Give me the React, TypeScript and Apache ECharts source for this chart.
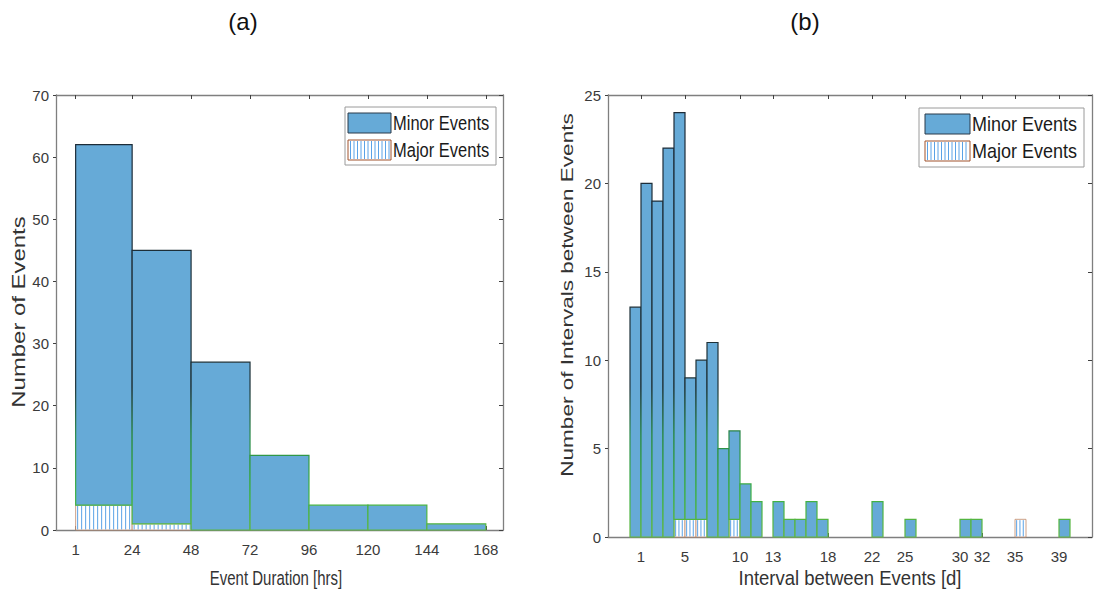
import React, { useEffect, useRef } from "react";
import * as echarts from "echarts";

// ---------- (a) Event duration histogram ----------
const durationEdges = [1, 24, 48, 72, 96, 120, 144, 168];
const durationMinor = [58, 44, 27, 12, 4, 4, 1];
const durationMajor = [4, 1, 0, 0, 0, 0, 0];
const durationTicks = [1, 24, 48, 72, 96, 120, 144, 168];

// ---------- (b) Interval between events histogram (1-day bins) ----------
const intervalDays = [
  0, 1, 2, 3, 4, 5, 6, 7, 8, 9, 10, 11, 12, 13, 14, 15, 16, 17, 18, 19,
  20, 21, 22, 23, 24, 25, 26, 27, 28, 29, 30, 31, 32, 33, 34, 35, 36, 37, 38, 39,
];
const intervalMinor = [
  13, 20, 19, 22, 23, 8, 9, 11, 5, 5, 3, 2, 0, 2, 1, 1, 2, 1, 0, 0,
  0, 0, 2, 0, 0, 1, 0, 0, 0, 0, 1, 1, 0, 0, 0, 0, 0, 0, 0, 1,
];
const intervalMajor = [
  0, 0, 0, 0, 1, 1, 1, 0, 0, 1, 0, 0, 0, 0, 0, 0, 0, 0, 0, 0,
  0, 0, 0, 0, 0, 0, 0, 0, 0, 0, 0, 0, 0, 0, 0, 1, 0, 0, 0, 0,
];
const intervalTicks = [1, 5, 10, 13, 18, 22, 25, 30, 32, 35, 39];

const FONT = 'Arial, "Liberation Sans", Helvetica, sans-serif';
const BAR_FILL = "#66AAD7";
const HATCH_COLOR = "#5aa2e6";
const MAJOR_EDGE = "#c08a6a";
const AXIS_COLOR = "#7f7f7f";
const LABEL_COLOR = "#3a3a3a";

function App() {
  const ref = useRef<HTMLDivElement>(null);

  useEffect(() => {
    if (!ref.current) return;
    const chart = echarts.init(ref.current, undefined, { renderer: "svg" });

    const edgeGradient = new echarts.graphic.LinearGradient(
      0, 95, 0, 537,
      [
        { offset: 0, color: "#1c2a38" },
        { offset: 0.66, color: "#1e3238" },
        { offset: 0.77, color: "#2a8a48" },
        { offset: 0.9, color: "#3cb043" },
        { offset: 1, color: "#62b840" },
      ],
      true
    );

    const minorData = (edges: number[], minor: number[], major: number[]) => {
      const out: number[][] = [];
      for (let i = 0; i < minor.length; i++) {
        if (minor[i] > 0) out.push([edges[i], edges[i + 1], major[i], major[i] + minor[i]]);
      }
      return out;
    };
    const majorData = (edges: number[], major: number[]) => {
      const out: number[][] = [];
      for (let i = 0; i < major.length; i++) {
        if (major[i] > 0) out.push([edges[i], edges[i + 1], 0, major[i]]);
      }
      return out;
    };

    const intervalEdges = intervalDays.concat([intervalDays[intervalDays.length - 1] + 1]);

    const renderMinor = (params: any, api: any) => {
      const a = api.coord([api.value(0), api.value(3)]);
      const b = api.coord([api.value(1), api.value(2)]);
      return {
        type: "rect",
        shape: { x: a[0], y: a[1], width: b[0] - a[0], height: b[1] - a[1] },
        style: { fill: BAR_FILL, stroke: edgeGradient, lineWidth: 1.2 },
      };
    };

    const makeRenderMajor = (spacing: number) => (params: any, api: any) => {
      const a = api.coord([api.value(0), api.value(3)]);
      const b = api.coord([api.value(1), api.value(2)]);
      const children: any[] = [
        {
          type: "rect",
          shape: { x: a[0], y: a[1], width: b[0] - a[0], height: b[1] - a[1] },
          style: { fill: "#ffffff", stroke: MAJOR_EDGE, lineWidth: 0.8 },
        },
      ];
      for (let x = a[0] + spacing / 2; x < b[0] - 0.8; x += spacing) {
        children.push({
          type: "line",
          shape: { x1: x, y1: a[1] + 0.8, x2: x, y2: b[1] - 0.5 },
          style: { stroke: HATCH_COLOR, lineWidth: 1 },
        });
      }
      return { type: "group", children };
    };

    const baseX = (gridIndex: number, min: number, max: number, ticks: number[], labelMargin: number) => ({
      type: "value",
      gridIndex,
      position: "bottom",
      min,
      max,
      axisLine: { show: true, onZero: false, lineStyle: { color: AXIS_COLOR, width: 1.3 } },
      axisTick: { show: true, inside: true, length: 4, customValues: ticks, lineStyle: { color: "#404040" } },
      axisLabel: { show: true, customValues: ticks, fontSize: 15, fontFamily: FONT, color: LABEL_COLOR, margin: labelMargin },
      splitLine: { show: false },
    });
    const topX = (gridIndex: number, min: number, max: number, ticks: number[]) => ({
      type: "value",
      gridIndex,
      position: "top",
      min,
      max,
      axisLine: { show: true, onZero: false, lineStyle: { color: AXIS_COLOR, width: 1.3 } },
      axisTick: { show: true, inside: true, length: 4, customValues: ticks, lineStyle: { color: "#404040" } },
      axisLabel: { show: false },
      splitLine: { show: false },
    });
    const leftY = (gridIndex: number, max: number, interval: number) => ({
      type: "value",
      gridIndex,
      position: "left",
      min: 0,
      max,
      interval,
      axisLine: { show: true, onZero: false, lineStyle: { color: AXIS_COLOR, width: 1.3 } },
      axisTick: { show: true, inside: false, length: 3, lineStyle: { color: "#404040" } },
      axisLabel: { show: true, fontSize: 15, fontFamily: FONT, color: LABEL_COLOR, margin: 7 },
      splitLine: { show: false },
    });
    const rightY = (gridIndex: number, max: number, interval: number) => ({
      type: "value",
      gridIndex,
      position: "right",
      min: 0,
      max,
      interval,
      axisLine: { show: true, onZero: false, lineStyle: { color: AXIS_COLOR, width: 1.3 } },
      axisTick: { show: true, inside: true, length: 4, lineStyle: { color: "#404040" } },
      axisLabel: { show: false },
      splitLine: { show: false },
    });

    const text = (
      str: string, x: number, y: number, fontSize: number,
      opts: { rotation?: number; scaleX?: number; scaleY?: number; align?: string; color?: string } = {}
    ) => ({
      type: "text",
      x,
      y,
      rotation: opts.rotation || 0,
      scaleX: opts.scaleX || 1,
      scaleY: opts.scaleY || 1,
      silent: true,
      style: {
        text: str,
        x: 0,
        y: 0,
        align: opts.align || "center",
        verticalAlign: "middle",
        textAlign: opts.align || "center",
        textVerticalAlign: "middle",
        fontSize,
        fontFamily: FONT,
        fill: opts.color || "#222222",
      },
    });

    const hatchPatch = (x: number, y: number, w: number, h: number) => {
      const children: any[] = [
        { type: "rect", shape: { x, y, width: w, height: h }, style: { fill: "#ffffff", stroke: "#a0522d", lineWidth: 1 } },
      ];
      for (let lx = x + 2.5; lx < x + w - 1; lx += 3.5) {
        children.push({ type: "line", shape: { x1: lx, y1: y + 1, x2: lx, y2: y + h - 1 }, style: { stroke: HATCH_COLOR, lineWidth: 1 } });
      }
      return { type: "group", children };
    };

    const legend = (bx: number, by: number, bw: number, bh: number, px: number, pw: number, tx: number, fs: number, sy: number) => ({
      type: "group",
      children: [
        { type: "rect", shape: { x: bx, y: by, width: bw, height: bh }, style: { fill: "#ffffff", stroke: "#9a9a9a", lineWidth: 1 } },
        { type: "rect", shape: { x: px, y: by + 6, width: pw, height: 20 }, style: { fill: BAR_FILL, stroke: "#2a3a4a", lineWidth: 1 } },
        hatchPatch(px, by + 33, pw, 20),
        text("Minor Events", tx, by + 16.5, fs, { align: "left", scaleY: sy, color: "#1a1a1a" }),
        text("Major Events", tx, by + 43.5, fs, { align: "left", scaleY: sy, color: "#1a1a1a" }),
      ],
    });

    const option: any = {
      animation: false,
      backgroundColor: "#ffffff",
      grid: [
        { left: 56, top: 95, width: 447, height: 435 },
        { left: 608, top: 95, width: 484, height: 442 },
      ],
      xAxis: [
        baseX(0, -7, 175, durationTicks, 12),
        topX(0, -7, 175, durationTicks),
        baseX(1, -2, 42, intervalTicks, 12),
        topX(1, -2, 42, intervalTicks),
      ],
      yAxis: [leftY(0, 70, 10), rightY(0, 70, 10), leftY(1, 25, 5), rightY(1, 25, 5)],
      series: [
        {
          type: "custom",
          name: "Major Events",
          xAxisIndex: 0,
          yAxisIndex: 0,
          renderItem: makeRenderMajor(4),
          encode: { x: [0, 1], y: [2, 3] },
          data: majorData(durationEdges, durationMajor),
        },
        {
          type: "custom",
          name: "Minor Events",
          xAxisIndex: 0,
          yAxisIndex: 0,
          renderItem: renderMinor,
          encode: { x: [0, 1], y: [2, 3] },
          data: minorData(durationEdges, durationMinor, durationMajor),
        },
        {
          type: "custom",
          name: "Major Events",
          xAxisIndex: 2,
          yAxisIndex: 2,
          renderItem: makeRenderMajor(3.3),
          encode: { x: [0, 1], y: [2, 3] },
          data: majorData(intervalEdges, intervalMajor),
        },
        {
          type: "custom",
          name: "Minor Events",
          xAxisIndex: 2,
          yAxisIndex: 2,
          renderItem: renderMinor,
          encode: { x: [0, 1], y: [2, 3] },
          data: minorData(intervalEdges, intervalMinor, intervalMajor),
        },
      ],
      graphic: [
        text("(a)", 243, 21, 24, { color: "#111111" }),
        text("(b)", 805, 21, 24, { color: "#111111" }),
        text("Event Duration [hrs]", 276, 578, 15, { scaleY: 1.3, color: "#333333" }),
        text("Number of Events", 19, 312, 18, { rotation: Math.PI / 2, scaleX: 1.33, color: "#333333" }),
        text("Interval between Events [d]", 850, 578, 18.5, { scaleY: 1.05, color: "#333333" }),
        text("Number of Intervals between Events", 567, 295, 16, { rotation: Math.PI / 2, scaleX: 1.41, color: "#333333" }),
        legend(345, 107, 151, 58, 348, 43, 393, 16.5, 1.18),
        legend(919, 108, 165, 59, 925, 45, 972, 18, 1.08),
      ],
    };

    chart.setOption(option);
    return () => chart.dispose();
  }, []);

  return (
    <div
      ref={ref}
      style={{ position: "fixed", left: 0, top: 0, width: 1094, height: 599, background: "#ffffff" }}
    />
  );
}

export default App;
